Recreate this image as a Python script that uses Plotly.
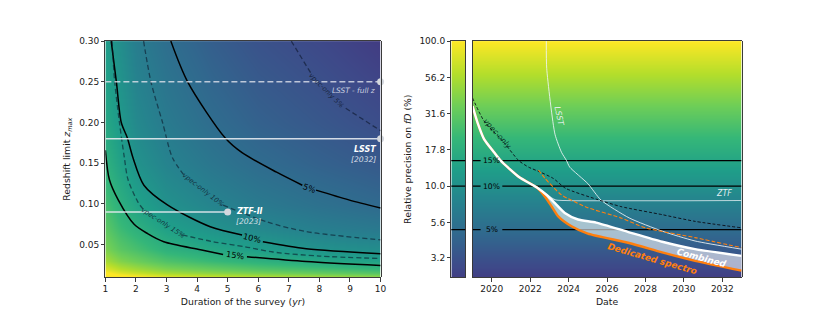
import math
import plotly.graph_objects as go

FONT = "DejaVu Sans"
ORANGE = "#ff7f0e"

# ---------------- Left panel: precision map (log10 of precision in %) ----------------
duration_grid = [1, 1.5, 2, 3, 4.5, 6, 8, 10]
zmax_grid = [0.01, 0.015, 0.02, 0.03, 0.045, 0.07, 0.1, 0.15, 0.2, 0.3]
log_prec_map = [
    [2.20, 2.12, 2.04, 1.94, 1.86, 1.80, 1.74, 1.68],
    [2.04, 1.92, 1.85, 1.74, 1.66, 1.60, 1.53, 1.47],
    [1.91, 1.79, 1.72, 1.61, 1.53, 1.46, 1.40, 1.34],
    [1.74, 1.62, 1.55, 1.44, 1.35, 1.28, 1.20, 1.14],
    [1.60, 1.48, 1.41, 1.28, 1.19, 1.11, 1.02, 0.98],
    [1.49, 1.36, 1.27, 1.13, 1.02, 0.94, 0.86, 0.81],
    [1.40, 1.26, 1.15, 1.01, 0.905, 0.822, 0.744, 0.683],
    [1.28, 1.14, 1.02, 0.90, 0.788, 0.701, 0.626, 0.564],
    [1.19, 1.07, 0.945, 0.825, 0.706, 0.621, 0.550, 0.479],
    [1.10, 0.98, 0.845, 0.723, 0.600, 0.514, 0.443, 0.360],
]

# combined contours (solid), None = inline label gap
c5_dur = [3.14, 3.69, 4.92, 5.47, 6.60, 7.44, None, 7.89, 8.96, 10.0]
c5_z = [0.30, 0.250, 0.181, 0.163, 0.139, 0.123, None, 0.117, 0.105, 0.095]
c10_dur = [1.19, 1.36, 1.52, 1.72, 1.90, 2.26, 3.04, 4.43, 5.47, None, 6.15, 7.57, 10.0]
c10_z = [0.30, 0.25, 0.20, 0.181, 0.157, 0.123, 0.0985, 0.072, 0.062, None, 0.0536, 0.045, 0.039]
c15_dur = [1.0, 1.13, 1.42, 1.94, 2.38, 2.91, 4.11, 4.85, None, 5.63, 7.57, 10.0]
c15_z = [0.166, 0.130, 0.105, 0.075, 0.0636, 0.0536, 0.0438, 0.038, None, 0.0353, 0.0293, 0.0244]
# vpec-only contours (dashed)
v5_dur = [7.08, 7.73, None, 8.86, 10.0]
v5_z = [0.30, 0.26, None, 0.2175, 0.19]
v10_dur = [2.25, 2.49, 2.87, 3.19, 3.56, None, 4.85, 6.28, 7.57, 10.0]
v10_z = [0.30, 0.25, 0.20, 0.157, 0.136, None, 0.0985, 0.078, 0.066, 0.056]
v15_dur = [1.22, 1.30, 1.46, 1.62, 1.74, 2.07, 2.26, None, 3.52, 4.53, 5.56, 6.48, 8.0, 10.0]
v15_z = [0.30, 0.252, 0.20, 0.157, 0.130, 0.102, 0.0924, None, 0.062, 0.0536, 0.0475, 0.041, 0.036, 0.033]

# contour label positions
clabel_text = ["5%", "10%", "15%", "vpec-only 5%", "vpec-only 10%", "vpec-only 15%"]
clabel_dur = [7.67, 5.80, 5.24, 8.23, 4.20, 2.89]
clabel_z = [0.1197, 0.0582, 0.0368, 0.2387, 0.1173, 0.0772]
clabel_angle = [20, 14, 8, 45, 38, 33]

# surveys
survey_names = ["LSST - full z", "LSST", "ZTF-II"]
survey_zmax = [0.25, 0.18, 0.09]
survey_duration = [10, 10, 5]
survey_year = ["", "[2032]", "[2023]"]

duration_range = [1, 10]
zmax_range = [0.01, 0.30]

# ---------------- Right panel: precision vs date ----------------
date_range = [2019, 2033]
prec_range = [2.35, 100]
prec_color_range = [1, 100]
strip_ticks = [100.0, 56.2, 31.6, 17.8, 10.0, 5.6, 3.2]
precision_levels = [15, 10, 5]
level_label_year = 2020.0
level_gap = [2019.42, 2020.55]

combined_year = [2019.0, 2019.26, 2019.6, 2020.12, 2020.46, 2021.4, 2022.35, 2022.86, 2023.29,
                 2023.80, 2024.49, 2025.43, 2027.15, 2028.87, 2030.58, 2033.0]
combined_prec = [35.6, 27.4, 21.1, 17.1, 15.0, 11.6, 9.77, 8.68, 7.62,
                 6.52, 5.88, 5.6, 4.8, 4.13, 3.67, 3.30]
dedicated_year = [2019.0, 2019.26, 2019.6, 2020.12, 2020.46, 2021.4, 2022.35, 2022.77, 2023.12,
                  2023.46, 2024.15, 2025.0, 2027.15, 2028.87, 2030.58, 2033.0]
dedicated_prec = [35.6, 27.4, 21.1, 17.1, 15.0, 11.6, 9.77, 8.45, 7.23,
                  6.18, 5.28, 4.70, 4.05, 3.49, 3.05, 2.61]
ztf_year = [2019.0, 2019.26, 2019.6, 2020.12, 2020.46, 2021.4, 2022.35, 2022.85, 2023.3, 2023.8, 2033.0]
ztf_prec = [35.6, 27.4, 21.1, 17.1, 15.0, 11.6, 9.77, 8.75, 8.04, 7.95, 7.95]
lsst_year = [2022.84, 2022.86, 2023.29, 2023.63, 2023.89, 2024.06, 2025.0, 2025.69,
             2027.15, 2028.87, 2030.58, 2033.0]
lsst_prec = [100, 64.8, 22.8, 17.1, 15.0, 13.5, 10.4, 8.0, 6.03, 4.89, 4.18, 3.67]
vpec_year = [2019.0, 2019.6, 2020.63, 2021.4, 2021.92, 2022.52, 2023.2, 2023.85, 2025.47,
             2026.72, 2028.87, 2030.58, 2033.0]
vpec_prec = [40.5, 28.1, 20.0, 15.0, 13.5, 12.5, 11.3, 9.64, 8.1, 7.22, 6.35, 5.71, 5.15]
vpec_spec_year = [2022.43, 2022.77, 2023.63, 2025.0, 2026.72, 2028.0, 2030.58, 2033.0]
vpec_spec_prec = [12.9, 11.3, 8.69, 7.1, 6.03, 5.15, 4.41, 3.76]

# ---------------- layout geometry (paper fractions) ----------------
L_DOM_X = [0.1247, 0.4599]
STRIP_DOM_X = [0.5461, 0.5630]
R_DOM_X = [0.5719, 0.8996]
DOM_Y = [0.1103, 0.882]

fig = go.Figure()

# ---- left panel ----
fig.add_trace(go.Heatmap(x=duration_grid, y=zmax_grid, z=log_prec_map, colorscale="Viridis",
                         zmin=math.log10(prec_color_range[0]), zmax=math.log10(prec_color_range[1]),
                         zsmooth="best", showscale=False, hoverinfo="skip", xaxis="x", yaxis="y"))

solid = dict(color="black", width=1.5, shape="spline", smoothing=0.8)
dashed = dict(color="rgba(10,20,40,0.58)", width=1.3, dash="5px,3px", shape="spline", smoothing=0.8)
for xs, ys, ln in [(c5_dur, c5_z, solid), (c10_dur, c10_z, solid), (c15_dur, c15_z, solid),
                   (v5_dur, v5_z, dashed), (v10_dur, v10_z, dashed), (v15_dur, v15_z, dashed)]:
    fig.add_trace(go.Scatter(x=xs, y=ys, mode="lines", line=ln, hoverinfo="skip",
                             xaxis="x", yaxis="y", showlegend=False))

survey_line_styles = [
    dict(color="rgba(225,228,236,0.8)", width=1.5, dash="6px,3px"),
    dict(color="rgba(230,234,240,0.9)", width=1.5),
    dict(color="rgba(230,234,240,0.9)", width=1.5),
]
for i in range(len(survey_names)):
    fig.add_trace(go.Scatter(x=[duration_range[0], survey_duration[i]], y=[survey_zmax[i]] * 2,
                             mode="lines", line=survey_line_styles[i], hoverinfo="skip",
                             xaxis="x", yaxis="y", showlegend=False))
fig.add_trace(go.Scatter(x=survey_duration, y=survey_zmax, mode="markers",
                         marker=dict(size=7, color="#d3d7de"), cliponaxis=False,
                         hoverinfo="skip", xaxis="x", yaxis="y", showlegend=False))

annotations = []
for t, xx, yy, ang in zip(clabel_text, clabel_dur, clabel_z, clabel_angle):
    is_v = t.startswith("vpec")
    annotations.append(dict(x=xx, y=yy, xref="x", yref="y", text=("<i>%s</i>" % t) if is_v else t,
                            textangle=ang, showarrow=False,
                            font=dict(family=FONT, size=6.8 if is_v else 8.2,
                                      color="rgba(15,25,45,0.8)" if is_v else "black")))

# survey labels
annotations.append(dict(x=survey_duration[0] - 0.07, y=survey_zmax[0] - 0.0105, xref="x", yref="y",
                        text="<i>LSST - full z</i>", showarrow=False, xanchor="right",
                        font=dict(family=FONT, size=7.4, color="rgba(225,230,240,0.85)")))
annotations.append(dict(x=survey_duration[1] - 0.07, y=survey_zmax[1] - 0.0135, xref="x", yref="y",
                        text="<b><i>LSST</i></b>", showarrow=False, xanchor="right",
                        font=dict(family=FONT, size=8, color="white")))
annotations.append(dict(x=survey_duration[1] - 0.07, y=survey_zmax[1] - 0.0257, xref="x", yref="y",
                        text="<i>%s</i>" % survey_year[1], showarrow=False, xanchor="right",
                        font=dict(family=FONT, size=7.6, color="rgba(235,238,245,0.9)")))
annotations.append(dict(x=survey_duration[2] + 0.22, y=survey_zmax[2] + 0.0005, xref="x", yref="y",
                        text="<b><i>ZTF-II</i></b>", showarrow=False, xanchor="left",
                        font=dict(family=FONT, size=8, color="white")))
annotations.append(dict(x=survey_duration[2] + 0.22, y=survey_zmax[2] - 0.0115, xref="x", yref="y",
                        text="<i>%s</i>" % survey_year[2], showarrow=False, xanchor="left",
                        font=dict(family=FONT, size=7.6, color="rgba(235,238,245,0.9)")))

# ---- right panel background (base axes, linear in log10 precision) ----
grad_levels = [math.log10(v) for v in prec_color_range]
fig.add_trace(go.Heatmap(x=date_range, y=grad_levels, z=[[grad_levels[0]] * 2, [grad_levels[1]] * 2],
                         colorscale="Viridis", zmin=grad_levels[0], zmax=grad_levels[1],
                         zsmooth="best", showscale=False, hoverinfo="skip", xaxis="x3", yaxis="y3"))
# colour strip
fig.add_trace(go.Heatmap(x=[0, 1], y=grad_levels, z=[[grad_levels[0]] * 2, [grad_levels[1]] * 2],
                         colorscale="Viridis", zmin=grad_levels[0], zmax=grad_levels[1],
                         zsmooth="best", showscale=False, hoverinfo="skip", xaxis="x5", yaxis="y5"))

shapes = []
for lv in precision_levels:
    shapes.append(dict(type="line", xref="x5 domain", yref="y5", x0=0, x1=1,
                       y0=math.log10(lv), y1=math.log10(lv), line=dict(color="black", width=1.3)))
    fig.add_trace(go.Scatter(x=[date_range[0], level_gap[0], None, level_gap[1], date_range[1]],
                             y=[lv, lv, None, lv, lv], mode="lines",
                             line=dict(color="black", width=1.3), hoverinfo="skip",
                             xaxis="x3", yaxis="y4", showlegend=False))
    annotations.append(dict(x=level_label_year, y=math.log10(lv), xref="x3", yref="y4",
                            text="%d%%" % lv, showarrow=False,
                            font=dict(family=FONT, size=7.6, color="black")))

# fill between dedicated and combined
fig.add_trace(go.Scatter(x=dedicated_year, y=dedicated_prec, mode="lines", line=dict(width=0),
                         hoverinfo="skip", xaxis="x3", yaxis="y4", showlegend=False))
fig.add_trace(go.Scatter(x=combined_year, y=combined_prec, mode="lines", line=dict(width=0),
                         fill="tonexty", fillcolor="rgba(255,255,255,0.58)",
                         hoverinfo="skip", xaxis="x3", yaxis="y4", showlegend=False))

right_lines = [
    (ztf_year, ztf_prec, dict(color="rgba(235,240,245,0.75)", width=1.1)),
    (lsst_year, lsst_prec, dict(color="rgba(240,244,248,0.85)", width=1.0)),
    (vpec_year, vpec_prec, dict(color="rgba(10,10,20,0.9)", width=1.0, dash="3px,2px")),
    (vpec_spec_year, vpec_spec_prec, dict(color=ORANGE, width=1.1, dash="4px,2px")),
    (dedicated_year, dedicated_prec, dict(color=ORANGE, width=2.4)),
    (combined_year, combined_prec, dict(color="white", width=2.4)),
]
for xs, ys, ln in right_lines:
    ln = dict(ln, shape="spline", smoothing=0.6)
    fig.add_trace(go.Scatter(x=xs, y=ys, mode="lines", line=ln, hoverinfo="skip",
                             xaxis="x3", yaxis="y4", showlegend=False))

right_labels = [
    ("<i>LSST</i>", 2023.48, 30.5, 78, dict(size=8, color="rgba(240,244,248,0.95)")),
    ("<i>vpec-only</i>", 2020.29, 23.1, 48, dict(size=7.6, color="rgba(5,40,30,0.9)")),
    ("<i>ZTF</i>", 2032.07, 8.93, 0, dict(size=8, color="rgba(240,244,248,0.95)")),
    ("<b><i>Combined</i></b>", 2030.94, 3.18, 15, dict(size=9, color="white")),
    ("<b><i>Dedicated spectro</i></b>", 2028.37, 3.15, 16, dict(size=9, color=ORANGE)),
]
for t, xx, yy, ang, f in right_labels:
    annotations.append(dict(x=xx, y=math.log10(yy), xref="x3", yref="y4", text=t, textangle=ang,
                            showarrow=False, font=dict(family=FONT, **f)))

axis_common = dict(showline=True, linecolor="#262626", linewidth=0.9, mirror=True, showgrid=False,
                   zeroline=False, ticks="outside", ticklen=3.5, tickwidth=0.9, tickcolor="#262626",
                   tickfont=dict(family=FONT, size=9, color="#1a1a1a"))
title_font = dict(family=FONT, size=9.3, color="#1a1a1a")

fig.update_layout(
    width=830, height=311, margin=dict(l=0, r=0, t=0, b=0),
    paper_bgcolor="white", plot_bgcolor="white", showlegend=False,
    font=dict(family=FONT),
    xaxis=dict(axis_common, domain=L_DOM_X, range=duration_range, anchor="y",
               tickvals=list(range(1, 11)),
               title=dict(text="Duration of the survey (<i>yr</i>)", font=title_font, standoff=4)),
    yaxis=dict(axis_common, domain=DOM_Y, range=zmax_range, anchor="x",
               tickvals=[0.05, 0.10, 0.15, 0.20, 0.25, 0.30], tickformat=".2f",
               title=dict(text="Redshift limit <i>z</i><sub><i>max</i></sub>", font=title_font, standoff=6)),
    xaxis3=dict(axis_common, domain=R_DOM_X, range=date_range, anchor="y3",
                tickvals=list(range(2020, 2033, 2)),
                title=dict(text="Date", font=title_font, standoff=4)),
    yaxis3=dict(domain=DOM_Y, range=[math.log10(prec_range[0]), math.log10(prec_range[1])],
                anchor="x3", visible=False),
    yaxis4=dict(domain=DOM_Y, overlaying="y3", anchor="x3", type="log",
                range=[math.log10(prec_range[0]), math.log10(prec_range[1])],
                showline=True, linecolor="#262626", linewidth=0.9, mirror=True, showgrid=False,
                zeroline=False, ticks="", showticklabels=False),
    xaxis5=dict(domain=STRIP_DOM_X, range=[0, 1], anchor="y5", showline=True, linecolor="#262626",
                linewidth=0.9, mirror=True, showgrid=False, zeroline=False, ticks="",
                showticklabels=False),
    yaxis5=dict(axis_common, domain=DOM_Y, anchor="x5",
                range=[math.log10(prec_range[0]), math.log10(prec_range[1])],
                tickvals=[math.log10(v) for v in strip_ticks],
                ticktext=["%.1f" % v for v in strip_ticks],
                title=dict(text="Relative precision on <i>fD</i> (%)", font=title_font, standoff=6)),
    annotations=annotations,
    shapes=shapes,
)

fig.write_html("out.html", config={"displayModeBar": False, "staticPlot": True},
               post_script="document.body.style.margin='0px';document.body.style.overflow='hidden';")
